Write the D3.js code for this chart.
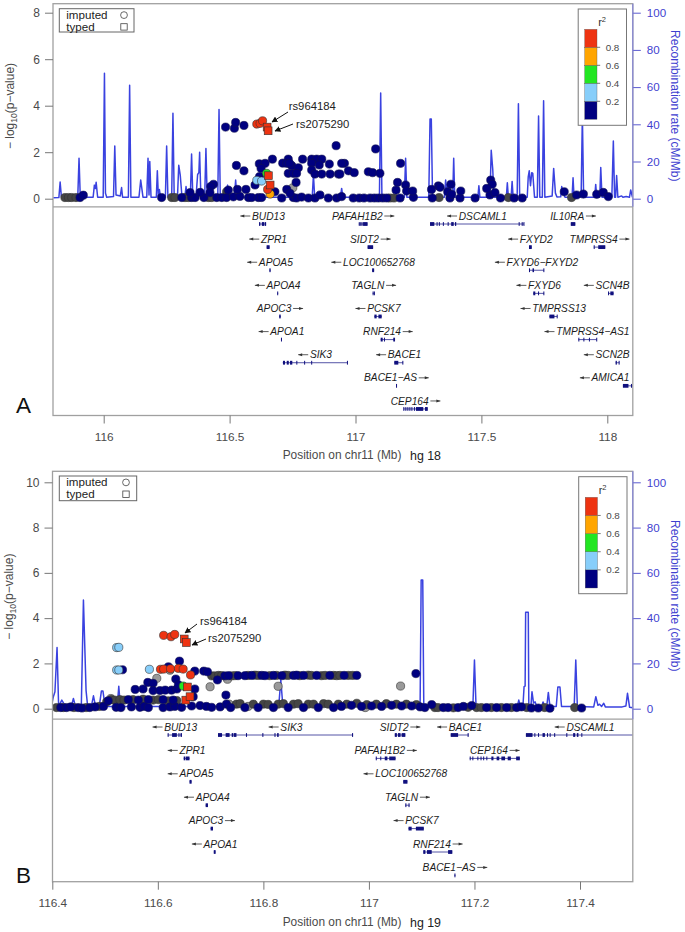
<!DOCTYPE html>
<html><head><meta charset="utf-8">
<script src="https://cdn.jsdelivr.net/npm/d3@7"></script>
<style>html,body{margin:0;padding:0;background:#fff}svg{display:block}text{font-family:"Liberation Sans",Arial,sans-serif}</style>
</head><body><div id="c"></div>
<script>
// ---------- Panel A data (hg18) : [position Mb, -log10 p]
const darkA=[[115.846,.05],[115.860,.05],[115.873,.05],[115.890,.05],[116.270,.05],[116.283,.05],[116.323,.05],[116.336,.05],[116.416,.05],[116.429,.05],[116.488,.3],[117.137,.03],[117.153,.03],[117.332,.05],[117.607,.05],[117.858,.05]];
const grayA=[[116.751,.47]];
const navyA=[[115.906,.05],[115.919,.15],[116.230,.05],[116.310,.05],[116.349,.05],[116.363,.05],[116.398,.05],[116.449,.05],[116.469,.05],[116.488,.05],[116.515,.08],[116.541,.1],[116.575,.05],[116.588,.05],[116.614,.05],[116.627,.05],[116.707,.03],[116.753,.05],[116.766,.03],[116.786,.07],[116.813,.03],[116.839,.03],[116.892,.03],[116.925,.03],
[116.484,3.08],[116.519,3.03],[116.524,3.28],[116.557,3.15],[116.923,2.28],
[116.527,1.43],[116.557,1.2],[116.618,1.5],[116.641,1.52],[116.625,1.3],[116.670,1.7],[116.711,1.53],[116.733,1.7],[116.727,1.52],[116.747,1.42],[116.738,1.52],[116.773,1.33],[116.733,1.09],[116.753,1.09],[116.766,1.09],[116.790,1.7],[116.826,1.7],[116.846,1.7],[116.866,1.7],[116.826,1.52],[116.856,1.45],[116.826,1.23],[116.839,1.06],[116.866,1.06],[116.899,1.06],[116.896,1.49],[116.932,1.06],
[116.436,.62],[116.425,.52],[116.422,.26],[116.495,.37],[116.383,.27],[116.343,.26],[116.531,.4],[116.565,.4],[116.601,.59],[116.619,.95],[116.727,.4],[116.764,.7],[116.740,.23],[116.680,.3],[116.859,.16],[116.945,.09],
[116.991,.03],[117.015,.03],[117.034,.03],[117.058,.03],[117.075,.03],[117.091,.03],[117.108,.03],[117.124,.03],[117.177,.03],[117.230,.06],[117.305,.03],[117.375,.03],[117.415,.03],[117.475,.03],[117.534,.16],[117.576,.03],[117.630,.03],[117.662,.03],[117.878,.16],[117.905,.2],[117.958,.19],[117.984,.27],[118.004,.09],
[117.080,2.14],[116.956,1.52],[116.945,1.52],[116.938,1.06],[116.972,1.2],[116.995,1.12],[117.051,1.16],[117.068,1.12],[117.097,1.09],[117.179,1.52],[117.167,.7],[117.161,.37],[117.199,.59],[117.203,.33],[117.227,.33],[117.302,.4],[117.329,.55],[117.336,.49],[117.379,.62],[117.366,.3],[117.382,.19],[117.418,.33],[117.537,.8],[117.543,.62],[117.521,.44],[117.554,.26],[117.829,.3]];
const lightA=[[116.608,.79],[116.627,.76]];
const greenA=[[116.647,1.09]];
const orangeA=[[116.661,.2]];
const redA=[[116.608,3.21],[116.621,3.24],[116.631,3.35],[116.651,.4]];
const typedRedA=[[116.649,3.08],[116.653,2.92],[116.654,.99],[116.661,.59]];
const recombA=[[115.8,.5],[115.822,.6],[115.827,9],[115.832,1],[115.897,.8],[115.902,21.7],[115.907,.8],[115.958,.8],[115.963,7.3],[115.967,5.5],[115.970,8.8],[115.976,.8],[115.998,.8],[116.003,67.4],[116.007,3],[116.012,.8],[116.039,1.2],[116.044,28.3],[116.049,2],[116.066,1.5],[116.071,6],[116.075,.8],[116.098,.8],[116.103,61],[116.108,.8],[116.140,.8],[116.147,10],[116.156,.8],[116.171,.8],[116.176,21.7],[116.180,2],[116.183,20],[116.188,.8],[116.209,.8],[116.213,15],[116.217,1.5],[116.221,5],[116.226,.8],[116.245,.8],[116.250,28.3],[116.255,.8],[116.270,.8],[116.275,46],[116.280,.8],[116.293,.8],[116.298,18],[116.304,12.7],[116.311,.8],[116.322,.8],[116.327,6.5],[116.332,.8],[116.344,.8],[116.349,24],[116.354,.8],[116.367,1.5],[116.373,13],[116.378,14],[116.381,25],[116.386,.8],[116.401,.8],[116.406,27],[116.411,.8],[116.453,.8],[116.458,48],[116.463,.8],[116.487,.8],[116.492,7.3],[116.497,.8],[116.519,.8],[116.524,10],[116.529,.8],[116.828,.8],[116.833,12.7],[116.838,.8],[116.940,.8],[116.945,5.5],[116.950,.8],[117.095,.8],[117.100,56.8],[117.105,.8],[117.194,.8],[117.199,21.7],[117.204,.8],[117.291,.8],[117.296,42.8],[117.301,42.8],[117.306,.8],[117.353,.8],[117.358,10],[117.362,5],[117.366,8],[117.372,1],[117.386,.8],[117.390,21.7],[117.394,.8],[117.486,.8],[117.490,7],[117.494,.8],[117.534,.8],[117.539,26],[117.545,16],[117.550,.8],[117.599,.8],[117.603,8.6],[117.607,.8],[117.618,.8],[117.622,9.3],[117.626,.8],[117.642,.8],[117.647,51],[117.652,1],[117.664,1.5],[117.668,.8],[117.682,.8],[117.686,11.8],[117.690,15],[117.695,7],[117.700,14],[117.704,13.6],[117.711,.8],[117.722,.8],[117.727,44.4],[117.732,.8],[117.742,.8],[117.747,52.7],[117.752,.8],[117.781,1.5],[117.787,16.3],[117.794,3],[117.800,.9],[117.815,1],[117.819,6.5],[117.825,3],[117.832,.8],[117.860,.8],[117.864,11.3],[117.868,.8],[117.896,.8],[117.901,45],[117.906,.8],[117.950,.8],[117.954,7.7],[117.958,.8],[117.970,.8],[117.974,16.8],[117.979,.8],[118.018,.8],[118.024,31],[118.029,.8],[118.033,.8],[118.037,12.5],[118.042,.8],[118.057,1.5],[118.062,.8],[118.075,1.2],[118.088,.8],[118.093,4.7],[118.1,.8]];
const genesA=[
{name:"BUD13",dir:-1,row:0,s:116.617,e:116.645,ex:[[116.617,116.622],[116.628,116.638],[116.640,116.645]]},
{name:"PAFAH1B2",dir:1,row:0,s:117.013,e:117.048,ex:[[117.013,117.016],[117.019,117.022],[117.024,117.026],[117.030,117.048]]},
{name:"DSCAML1",dir:-1,row:0,s:117.296,e:117.669,ex:[[117.296,117.313],[117.322,117.325],[117.331,117.334],[117.347,117.350],[117.366,117.369],[117.380,117.390],[117.395,117.400],[117.648,117.651],[117.660,117.662],[117.667,117.669]]},
{name:"IL10RA",dir:1,row:0,s:117.855,e:117.873,ex:[[117.855,117.873]]},
{name:"ZPR1",dir:-1,row:1,s:116.647,e:116.659,ex:[[116.647,116.659]]},
{name:"SIDT2",dir:1,row:1,s:117.048,e:117.070,ex:[[117.048,117.070]]},
{name:"FXYD2",dir:-1,row:1,s:117.689,e:117.700,ex:[[117.689,117.700]]},
{name:"TMPRSS4",dir:1,row:1,s:117.946,e:117.992,ex:[[117.946,117.948],[117.964,117.992]]},
{name:"APOA5",dir:-1,row:2,s:116.658,e:116.663,ex:[[116.658,116.663]]},
{name:"LOC100652768",dir:-1,row:2,s:117.066,e:117.074,ex:[[117.066,117.074]]},
{name:"FXYD6\u2212FXYD2",dir:-1,row:2,s:117.689,e:117.749,ex:[[117.689,117.693],[117.703,117.709],[117.746,117.749]]},
{name:"APOA4",dir:-1,row:3,s:116.689,e:116.693,ex:[[116.689,116.693]]},
{name:"TAGLN",dir:1,row:3,s:117.068,e:117.076,ex:[[117.068,117.071],[117.073,117.076]]},
{name:"FXYD6",dir:-1,row:3,s:117.706,e:117.749,ex:[[117.706,117.714],[117.725,117.727],[117.746,117.749]]},
{name:"SCN4B",dir:-1,row:3,s:118.003,e:118.025,ex:[[118.003,118.006],[118.012,118.025]]},
{name:"APOC3",dir:1,row:4,s:116.697,e:116.703,ex:[[116.697,116.703]]},
{name:"PCSK7",dir:-1,row:4,s:117.075,e:117.104,ex:[[117.075,117.084],[117.091,117.104]]},
{name:"TMPRSS13",dir:-1,row:4,s:117.770,e:117.801,ex:[[117.770,117.790],[117.799,117.801]]},
{name:"APOA1",dir:-1,row:5,s:116.704,e:116.708,ex:[[116.704,116.708]]},
{name:"RNF214",dir:1,row:5,s:117.100,e:117.157,ex:[[117.100,117.108],[117.113,117.116],[117.150,117.157]]},
{name:"TMPRSS4\u2212AS1",dir:-1,row:5,s:117.885,e:117.958,ex:[[117.885,117.887],[117.905,117.907],[117.927,117.929],[117.956,117.958]]},
{name:"SIK3",dir:-1,row:6,s:116.711,e:116.968,ex:[[116.712,116.720],[116.727,116.735],[116.740,116.749],[116.765,116.768],[116.796,116.798],[116.824,116.827],[116.966,116.968]]},
{name:"BACE1",dir:-1,row:6,s:117.154,e:117.189,ex:[[117.154,117.170],[117.186,117.189]]},
{name:"SCN2B",dir:-1,row:6,s:118.033,e:118.048,ex:[[118.033,118.038],[118.045,118.048]]},
{name:"BACE1\u2212AS",dir:1,row:7,s:117.161,e:117.164,ex:[[117.161,117.164]]},
{name:"AMICA1",dir:-1,row:7,s:118.062,e:118.115,ex:[[118.062,118.084],[118.094,118.096]]},
{name:"CEP164",dir:1,row:8,s:117.190,e:117.287,ex:[[117.190,117.192],[117.198,117.200],[117.206,117.208],[117.214,117.216],[117.222,117.225],[117.232,117.235],[117.240,117.269],[117.276,117.287]]}
];
// ---------- Panel B data (hg19)
const grayB=[[116.598,1.34],[116.699,.97],[116.732,1.3],[116.828,.99],[117.060,1.0],[116.511,.45],[116.623,1.7],[116.735,.2],[116.771,.1],[116.993,.05]];
const darkB=[[116.408,.05],[116.421,.05],[116.441,.05],[116.464,.05],[116.489,.1],[116.503,.3],[116.512,.4],[116.518,.38],[116.528,.4],[116.536,.38],[116.553,.4],[116.572,.42],[116.591,.38],[116.601,.4],[116.620,.35],[116.636,.36],
[116.702,1.45],[116.708,1.45],[116.715,1.47],[116.721,1.46],[116.740,1.45],[116.746,1.46],[116.771,1.47],[116.784,1.48],[116.790,1.47],[116.812,1.46],[116.825,1.47],[116.841,1.48],[116.847,1.47],[116.869,1.46],[116.885,1.48],[116.891,1.47],[116.910,1.46],[116.917,1.47],[116.933,1.47],[116.939,1.46],[116.945,1.47],[116.961,1.47],[116.969,1.47],
[116.749,.2],[116.756,.22],[116.781,.2],[116.800,.2],[116.809,.19],[116.828,.2],[116.838,.22],[116.857,.2],[116.866,.22],[116.885,.2],[116.895,.2],[116.914,.22],[116.923,.2],[116.942,.2],[116.958,.2],[116.977,.24],[116.996,.18],[117.014,.2],[117.033,.22],[117.052,.2],[117.071,.2],[117.090,.18],
[117.125,.05],[117.131,.05],[117.160,.04],[117.188,.06],[117.204,.05],[117.213,.05],[117.232,.05],[117.251,.05],[117.270,.05],[117.299,.05],[117.333,.05],[117.390,.05]];
const navyB=[[116.416,.05],[116.427,.05],[116.435,.08],[116.449,.05],[116.456,.03],[116.471,.05],[116.481,.08],[116.497,.1],[116.521,.06],[116.530,.05],[116.550,.08],[116.566,.06],[116.574,.1],[116.582,.05],[116.610,.05],[116.623,.08],[116.632,.1],[116.645,.06],[116.664,.12],[116.680,.14],[116.692,.1],[116.702,.06],[116.718,.08],[116.730,.2],[116.738,.05],
[116.506,.35],[116.544,.4],[116.563,.38],[116.582,.4],[116.610,.4],[116.629,.38],
[116.557,.85],[116.572,.87],[116.581,1.16],[116.591,1.12],[116.591,.8],[116.604,.8],[116.614,.82],[116.626,.82],[116.636,.87],[116.634,1.31],[116.639,1.05],[116.670,.87],[116.667,.53],[116.670,1.66],[116.687,1.66],[116.694,1.63],[116.713,1.27],[116.729,.6],[116.620,1.85],[116.641,2.1],[116.533,1.72],
[116.727,1.45],[116.734,1.46],[116.752,1.46],[116.765,1.46],[116.778,1.47],[116.797,1.47],[116.803,1.46],[116.819,1.47],[116.835,1.46],[116.857,1.47],[116.863,1.48],[116.876,1.47],[116.901,1.47],[116.926,1.47],[116.953,1.47],[116.977,1.47],[117.089,1.55],
[116.765,.05],[116.790,.05],[116.819,.05],[116.847,.05],[116.876,.05],[116.904,.05],[116.933,.05],[116.948,.1],[116.967,.15],[116.986,.1],[117.005,.12],[117.024,.1],[117.043,.15],[117.062,.12],[117.081,.12],[117.097,.08],
[117.106,.05],[117.119,.18],[117.141,.05],[117.150,.05],[117.169,.05],[117.179,.1],[117.195,.14],[117.223,.05],[117.242,.05],[117.261,.05],[117.280,.05],[117.289,.08],[117.308,.03],[117.321,.03],[117.343,.02],[117.403,.03]];
const lightB=[[116.522,2.7],[116.526,2.71],[116.522,1.71],[116.526,1.71],[116.584,1.74]];
const greenB=[[116.648,1.0]];
const redB=[[116.611,3.24],[116.625,3.18],[116.632,3.28],[116.605,1.74],[116.611,1.75],[116.624,1.76],[116.639,1.78],[116.648,1.75],[116.662,1.49]];
const typedRedB=[[116.650,3.08],[116.654,2.92],[116.656,.96],[116.653,.38],[116.661,.53]];
const recombB=[[116.4,3],[116.402,5.3],[116.405,7.5],[116.409,27],[116.412,1],[116.413,1.5],[116.418,3.8],[116.425,1],[116.436,1],[116.440,4.5],[116.444,1],[116.455,1],[116.459,48],[116.464,8],[116.467,1],[116.474,1],[116.478,5.7],[116.482,1],[116.489,1],[116.493,7.8],[116.496,7.8],[116.500,1],[116.523,1],[116.526,9.9],[116.529,1],[116.829,1],[116.833,12.7],[116.837,1],[117.097,1],[117.099,56.8],[117.102,56.8],[117.104,1],[117.197,1],[117.200,21.5],[117.203,1],[117.281,1],[117.284,3.8],[117.287,1],[117.292,1.5],[117.294,9.7],[117.296,10],[117.297,42.6],[117.302,42.6],[117.303,1],[117.307,1],[117.309,7.5],[117.312,2.5],[117.315,3],[117.318,1],[117.327,1],[117.330,3],[117.333,1],[117.337,1],[117.340,7.2],[117.343,1],[117.355,1],[117.358,9.6],[117.362,9.6],[117.365,1],[117.389,1],[117.392,21.5],[117.395,1],[117.426,.8],[117.430,5.3],[117.434,1.5],[117.437,2],[117.441,1],[117.445,2.4],[117.448,.8],[117.480,.8],[117.487,1.2],[117.490,6.8],[117.494,.6],[117.5,.4]];
const genesB=[
{name:"BUD13",dir:-1,row:0,s:116.6186,e:116.6457,ex:[[116.6186,116.620],[116.627,116.636],[116.639,116.641],[116.643,116.6457]]},
{name:"SIK3",dir:-1,row:0,s:116.714,e:116.970,ex:[[116.714,116.7216],[116.7285,116.736],[116.740,116.743],[116.744,116.749],[116.767,116.769],[116.798,116.800],[116.821,116.823],[116.826,116.829],[116.968,116.970]]},
{name:"SIDT2",dir:1,row:0,s:117.049,e:117.069,ex:[[117.049,117.053],[117.055,117.060],[117.062,117.069]]},
{name:"BACE1",dir:-1,row:0,s:117.155,e:117.189,ex:[[117.155,117.169],[117.187,117.189]]},
{name:"DSCAML1",dir:-1,row:0,s:117.2975,e:117.52,ex:[[117.2975,117.310],[117.3135,117.315],[117.3205,117.322],[117.329,117.3335],[117.3375,117.339],[117.3425,117.344],[117.351,117.353],[117.374,117.376],[117.387,117.391],[117.394,117.397],[117.4025,117.404]]},
{name:"ZPR1",dir:-1,row:1,s:116.649,e:116.660,ex:[[116.649,116.652],[116.653,116.660]]},
{name:"PAFAH1B2",dir:1,row:1,s:117.013,e:117.0505,ex:[[117.013,117.014],[117.0215,117.023],[117.030,117.035],[117.0385,117.0505]]},
{name:"CEP164",dir:1,row:1,s:117.191,e:117.286,ex:[[117.191,117.192],[117.196,117.197],[117.2055,117.207],[117.2115,117.213],[117.2165,117.218],[117.2225,117.224],[117.232,117.236],[117.242,117.247],[117.251,117.258],[117.263,117.269],[117.279,117.286]]},
{name:"APOA5",dir:-1,row:2,s:116.660,e:116.664,ex:[[116.660,116.664]]},
{name:"LOC100652768",dir:-1,row:2,s:117.065,e:117.073,ex:[[117.065,117.073]]},
{name:"APOA4",dir:-1,row:3,s:116.6906,e:116.695,ex:[[116.6906,116.695]]},
{name:"TAGLN",dir:1,row:3,s:117.069,e:117.077,ex:[[117.069,117.071],[117.075,117.077]]},
{name:"APOC3",dir:1,row:4,s:116.700,e:116.7045,ex:[[116.700,116.7045]]},
{name:"PCSK7",dir:-1,row:4,s:117.075,e:117.104,ex:[[117.075,117.081],[117.089,117.104]]},
{name:"APOA1",dir:-1,row:5,s:116.706,e:116.7095,ex:[[116.706,116.7095]]},
{name:"RNF214",dir:1,row:5,s:117.103,e:117.158,ex:[[117.103,117.107],[117.110,117.119],[117.150,117.158]]},
{name:"BACE1\u2212AS",dir:1,row:6,s:117.162,e:117.164,ex:[[117.162,117.164]]}
];
const xTicksA=[116,116.5,117,117.5,118], xTicksB=[116.4,116.6,116.8,117,117.2,117.4];
const yTicksA=[0,2,4,6,8], yTicksB=[0,2,4,6,8,10];
const rateTicks=[0,20,40,60,80,100];
const r2Breaks=[.2,.4,.6,.8];
const r2Colors=["#000080","#87CEFA","#22e622","#FFA500","#EE3311"];
const GRAY="#9a9a9a",DARK="#454545",NAVY=r2Colors[0];

const svg=d3.select("#c").append("svg").attr("width",685).attr("height",932);
const defs=svg.append("defs");
const marker=defs.append("marker").attr("id","hd").attr("viewBox","0 0 10 10").attr("refX",9).attr("refY",5).attr("markerWidth",6).attr("markerHeight",6).attr("markerUnits","userSpaceOnUse").attr("orient","auto");
marker.append("path").attr("d","M0,0L10,5L0,10Z").attr("fill","#111");

function panel(c){
  const g=svg.append("g");
  const x=d3.scaleLinear().domain(c.xRef).range(c.xPx);
  const y=d3.scaleLinear().domain([0,c.yTop]).range(c.yPx);
  const yr=d3.scaleLinear().domain([0,100]).range(c.yPx);
  const cid="clip"+c.id;
  defs.append("clipPath").attr("id",cid).append("rect").attr("x",c.L).attr("y",c.T).attr("width",c.R-c.L).attr("height",c.S-c.T);
  defs.append("clipPath").attr("id",cid+"g").append("rect").attr("x",c.L).attr("y",c.S).attr("width",c.R-c.L).attr("height",c.B-c.S);
  // recombination
  const plot=g.append("g").attr("clip-path",`url(#${cid})`);
  plot.append("path").datum(c.recomb).attr("fill","none").attr("stroke","#3a42e0").attr("stroke-width",1.5).attr("stroke-linejoin","round")
    .attr("d",d3.line().x(d=>x(d[0])).y(d=>yr(d[1])));
  const circ=(data,col)=>plot.append("g").selectAll("circle").data(data).join("circle").attr("cx",d=>x(d[0])).attr("cy",d=>y(d[1])).attr("r",4.1).attr("fill",col).attr("stroke",col===NAVY?"#111150":"#333").attr("stroke-width",.6);
  circ(c.gray,GRAY);circ(c.dark,DARK);circ(c.navy,NAVY);circ(c.light,r2Colors[1]);circ(c.green,r2Colors[2]);circ(c.orange||[],r2Colors[3]);circ(c.red,r2Colors[4]);
  plot.append("g").selectAll("rect").data(c.typedRed).join("rect").attr("x",d=>x(d[0])-3.9).attr("y",d=>y(d[1])-3.9).attr("width",7.8).attr("height",7.8).attr("fill",r2Colors[4]).attr("stroke","#333").attr("stroke-width",.6);
  // genes
  const gg=g.append("g").attr("clip-path",`url(#${cid}g)`);
  const gl=g.append("g");
  c.genes.forEach(d=>{
    const ty=c.rowY(d.row)+8;
    gg.append("line").attr("x1",x(d.s)).attr("x2",x(d.e)).attr("y1",ty).attr("y2",ty).attr("stroke","#2a2a90").attr("stroke-width",.8);
    gg.selectAll(null).data(d.ex).join("rect").attr("x",e=>x(e[0])).attr("width",e=>Math.max(1,x(e[1])-x(e[0]))).attr("y",ty-1.9).attr("height",3.8).attr("fill","#10107e");
    const t=gl.append("text").attr("font-size",10.2).attr("font-style","italic").attr("fill","#1c1c1c").text(d.name);
    const w=t.node().getComputedTextLength(),tot=w+11.7;
    let left=(x(d.s)+x(d.e))/2-tot/2;
    if(left+tot>c.labelMax)left=c.labelMax-tot;
    const cy=c.rowY(d.row);
    t.attr("x",d.dir<0?left+11.7:left).attr("y",cy+3.6);
    const tail=d.dir<0?left+10:left+tot-10, tip=d.dir<0?left:left+tot;
    gl.append("line").attr("x1",tail).attr("x2",tip).attr("y1",cy).attr("y2",cy).attr("stroke","#333").attr("stroke-width",.8);
    gl.append("path").attr("d",`M${tip},${cy}L${tip-d.dir*4},${cy-1.5}L${tip-d.dir*4},${cy+1.5}Z`).attr("fill","#333");
  });
  // frame
  g.append("rect").attr("x",c.L).attr("y",c.T).attr("width",c.R-c.L).attr("height",c.B-c.T).attr("fill","none").attr("stroke","#a0a0a0").attr("stroke-width",1.3);
  g.append("line").attr("x1",c.L).attr("x2",c.R).attr("y1",c.S).attr("y2",c.S).attr("stroke","#a0a0a0").attr("stroke-width",1.3);
  // axes
  const ax=g.append("g").attr("transform",`translate(0,${c.B})`).call(d3.axisBottom(x).tickValues(c.xTicks).tickSize(8).tickPadding(9).tickFormat(d=>d3.format("~f")(d)));
  ax.select(".domain").remove();ax.selectAll("line").attr("stroke","#777");ax.selectAll("text").attr("font-size",11.8).attr("fill","#4a4a4a").attr("font-family",'"Liberation Sans"');
  const ay=g.append("g").attr("transform",`translate(${c.L},0)`).call(d3.axisLeft(y).tickValues(c.yTicks).tickSize(8).tickPadding(5));
  ay.select(".domain").remove();ay.selectAll("line").attr("stroke","#777");ay.selectAll("text").attr("font-size",12).attr("fill","#4a4a4a").attr("font-family",'"Liberation Sans"');
  const ar=g.append("g").attr("transform",`translate(${c.R},0)`).call(d3.axisRight(yr).tickValues(rateTicks).tickSize(8).tickPadding(6));
  ar.select(".domain").remove();
  ar.selectAll("line").attr("stroke","#5a5ad0");ar.selectAll("text").attr("font-size",11.6).attr("fill","#3f3fd0").attr("font-family",'"Liberation Sans"');
  g.append("line").attr("x1",c.R).attr("x2",c.R).attr("y1",c.T).attr("y2",c.S).attr("stroke","#8585d8").attr("stroke-width",1.2);
  // axis titles
  const yl=g.append("text").attr("transform",`translate(${c.yLabX},${c.yLabY}) rotate(-90)`).attr("text-anchor","middle").attr("font-size",12).attr("fill","#4a4a4a");
  yl.append("tspan").text("\u2212 log");yl.append("tspan").attr("font-size",8.5).attr("dy",2.5).text("10");yl.append("tspan").attr("dy",-2.5).text("(p\u2212value)");
  g.append("text").attr("transform",`translate(671,${c.rLabY}) rotate(90)`).attr("text-anchor","middle").attr("font-size",12).attr("fill","#3f3fd0").text("Recombination rate (cM/Mb)");
  g.append("text").attr("x",282.7).attr("y",c.xLabY).attr("font-size",11.9).attr("fill","#4a4a4a").text("Position on chr11 (Mb)");
  g.append("text").attr("x",410).attr("y",c.xLabY+.5).attr("font-size",12.4).attr("fill","#222").text(c.hg);
  g.append("text").attr("x",16).attr("y",c.letterY).attr("font-size",22.5).attr("fill","#111").text(c.letter);
  // imputed / typed legend
  const lg=g.append("g");
  lg.append("rect").attr("x",c.leg.x).attr("y",c.leg.y).attr("width",c.leg.w).attr("height",c.leg.h).attr("fill","#fff").attr("stroke","#666").attr("stroke-width",1);
  lg.append("text").attr("x",c.leg.x+7).attr("y",c.leg.y+10.2).attr("font-size",11.6).attr("fill","#222").text("imputed");
  lg.append("text").attr("x",c.leg.x+7).attr("y",c.leg.y+22.3).attr("font-size",11.6).attr("fill","#222").text("typed");
  lg.append("circle").attr("cx",c.leg.mx).attr("cy",c.leg.y+6.4).attr("r",3.4).attr("fill","#fff").attr("stroke","#444").attr("stroke-width",.8);
  lg.append("rect").attr("x",c.leg.mx-3.2).attr("y",c.leg.y+15).attr("width",6.4).attr("height",6.4).attr("fill","#fff").attr("stroke","#444").attr("stroke-width",.8);
  // r2 legend
  const rg=g.append("g");
  rg.append("rect").attr("x",c.r2.x).attr("y",c.r2.y).attr("width",48.3).attr("height",c.r2.h).attr("fill","#fff").attr("stroke","#777").attr("stroke-width",1);
  const ry=d3.scaleLinear().domain([0,1]).range([c.r2.b0,c.r2.b1]);
  const bx=c.r2.x+6.5;
  rg.selectAll(null).data(r2Colors).join("rect").attr("x",bx).attr("width",12.3).attr("y",(d,i)=>ry((i+1)/5)).attr("height",(d,i)=>ry(i/5)-ry((i+1)/5)).attr("fill",d=>d).attr("stroke","#555").attr("stroke-width",.35);
  rg.selectAll(null).data(r2Breaks).join("line").attr("x1",bx+12.3).attr("x2",bx+15.5).attr("y1",d=>ry(d)).attr("y2",d=>ry(d)).attr("stroke","#555").attr("stroke-width",.8);
  rg.selectAll(null).data(r2Breaks).join("text").attr("x",bx+21).attr("y",d=>ry(d)+3.5).attr("font-size",9.8).attr("fill","#4a4a4a").text(d=>d.toFixed(1));
  const tt=rg.append("text").attr("x",c.r2.x+20).attr("y",c.r2.y+17).attr("font-size",11).attr("fill","#333");
  tt.append("tspan").text("r");tt.append("tspan").attr("font-size",7.5).attr("dy",-4).text("2");
  // snp annotations
  c.notes.forEach(n=>{
    g.append("text").attr("x",n.tx).attr("y",n.ty).attr("font-size",11.3).attr("fill","#222").text(n.t);
    g.append("line").attr("x1",n.a[0]).attr("y1",n.a[1]).attr("x2",n.a[2]).attr("y2",n.a[3]).attr("stroke","#111").attr("stroke-width",1).attr("marker-end","url(#hd)");
  });
}
panel({id:"A",L:53,R:632.8,T:3.7,S:206.8,B:415.5,xRef:[116,118],xPx:[103.7,607.3],yTop:8,yPx:[198.7,12.7],xTicks:xTicksA,yTicks:yTicksA,
  recomb:recombA,gray:grayA,dark:darkA,navy:navyA,light:lightA,green:greenA,orange:orangeA,red:redA,typedRed:typedRedA,genes:genesA,
  rowY:r=>216+r*23.12,labelMax:629.5,yLabX:14,yLabY:106,rLabY:105.8,xLabY:459,hg:"hg 18",letter:"A",letterY:413,
  leg:{x:59.3,y:8.7,w:74.7,h:23.3,mx:124},r2:{x:578.2,y:9,h:116.3,b0:119.3,b1:29.3},
  notes:[{t:"rs964184",tx:288.7,ty:110,a:[288,112,272,122]},{t:"rs2075290",tx:296,ty:128,a:[293,124,275,131]}]});
panel({id:"B",L:52.5,R:632.8,T:471.3,S:719.2,B:881.7,xRef:[116.4,117.4],xPx:[52.3,580],yTop:10,yPx:[708.7,482.3],xTicks:xTicksB,yTicks:yTicksB,
  recomb:recombB,gray:grayB,dark:darkB,navy:navyB,light:lightB,green:greenB,red:redB,typedRed:typedRedB,genes:genesB,
  rowY:r=>727+r*23.4,labelMax:628.2,yLabX:13,yLabY:596.7,rLabY:595.7,xLabY:926,hg:"hg 19",letter:"B",letterY:883,
  leg:{x:59.3,y:476,w:77.4,h:24.7,mx:126},r2:{x:578.7,y:476.7,h:117,b0:588,b1:497.3},
  notes:[{t:"rs964184",tx:200,ty:625,a:[197,624,185,633]},{t:"rs2075290",tx:208,ty:642,a:[206,639,192,645]}]});
</script></body></html>
